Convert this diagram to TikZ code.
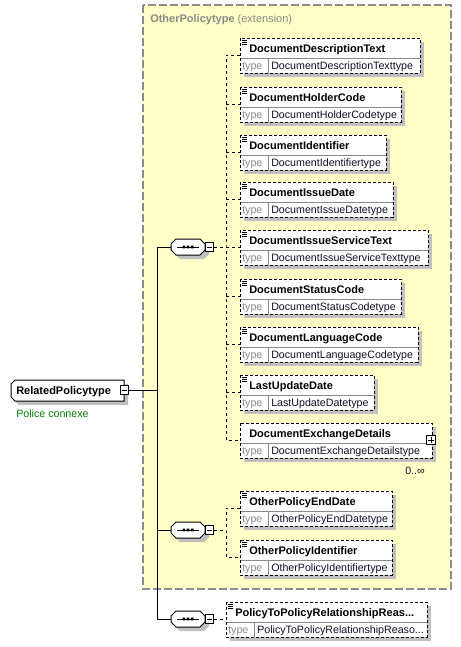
\documentclass[tikz,border=0pt]{standalone}
\usepackage{fontspec}
\setmainfont{Liberation Sans}
\usepackage{xcolor}
\usepackage{tikz}
\tikzset{every picture/.append style={font=\fontsize{8.25}{10}\selectfont}}
\definecolor{xsdpanel}{HTML}{FFFFC8}
\definecolor{xsdframe}{HTML}{8C8C8C}
\definecolor{xsdshade}{HTML}{C0C0C0}
\definecolor{xsdgrey}{HTML}{8A8A8A}
\definecolor{xsdink}{HTML}{101028}
\definecolor{xsdgreen}{HTML}{008000}
\tikzset{
  elemname/.style={font=\fontsize{8.25}{10}\selectfont\bfseries, inner sep=0pt, text=black},
  typekey/.style={font=\fontsize{8}{10}\selectfont, inner sep=0pt, text=xsdgrey},
  typename/.style={font=\fontsize{8}{10}\selectfont, inner sep=0pt, text=xsdink},
  link/.style={draw=black, line width=0.75pt},
  optlink/.style={link, dash pattern=on 2.25pt off 2.25pt},
  optedge/.style={link, dash pattern=on 2.25pt off 1.5pt},
  celledge/.style={draw=xsdgrey, line width=0.75pt},
  minusbox/.style={draw=black, fill=white, line width=0.75pt, minimum size=6.3pt, inner sep=0pt},
  panel/.style={draw=xsdframe, fill=xsdpanel, line width=1.1pt, dash pattern=on 6pt off 2.25pt}
}
% element box: id, top, left, right, name, type
\newcommand{\xsdelem}[6]{%
  \fill[xsdshade] (#3+4,#2+4) rectangle (#4+4,#2+39);
  \fill[white] (#3,#2) rectangle (#4,#2+35);
  \draw[celledge] (#3,#2+20) -- (#4,#2+20) (#3+28,#2+20) -- (#3+28,#2+35);
  \draw[optedge] (#3,#2) rectangle (#4,#2+35);
  \node[elemname, anchor=base west] (#1) at (#3+9,#2+14) {#5};
  \node[typekey, anchor=base west] (#1-key) at (#3+2,#2+31.5) {type};
  \node[typename, anchor=base west] (#1-type) at (#3+31,#2+31.5) {#6};
  \coordinate (#1-in) at (#3,#2+17);
}
% documentation mark
\newcommand{\docmark}[2]{%
  \draw[line width=0.6pt] (#1+2,#2+2.5) -- +(5,0) (#1+2,#2+4.5) -- +(5,0) (#1+2,#2+6.5) -- +(5,0);
}
% sequence compositor: id, centre y
\newcommand{\seqbox}[2]{%
  \fill[xsdshade] (180,#2-4) -- (204,#2-4) -- (209,#2+1) -- (209,#2+7) -- (204,#2+12)
    -- (180,#2+12) -- (175,#2+7) -- (175,#2+1) -- cycle;
  \filldraw[fill=white, link] (176,#2-8) -- (200,#2-8) -- (205,#2-3) -- (205,#2+3) -- (200,#2+8)
    -- (176,#2+8) -- (171,#2+3) -- (171,#2-3) -- cycle;
  \draw[link] (177,#2) -- (199,#2);
  \fill (182.5,#2-1.3) rectangle +(2.6,2.6) (186.7,#2-1.3) rectangle +(2.6,2.6) (190.9,#2-1.3) rectangle +(2.6,2.6);
  \node[minusbox] (#1-minus) at (209.5,#2) {};
  \draw[link] ([xshift=1.4pt]#1-minus.west) -- ([xshift=-1.4pt]#1-minus.east);
  \coordinate (#1) at (171,#2);
}

\begin{document}
\begin{tikzpicture}[x=0.75pt,y=-0.75pt]
    \useasboundingbox (0,0) rectangle (461,647);
    \fill[white] (0,0) rectangle (461,647);

    % extension panel
    \draw[panel] (143,5) rectangle (451,589);
    \node[anchor=base west, inner sep=0pt, text=xsdgrey] (panel-title) at (150,22.5)
      {\textbf{OtherPolicytype} (extension)};

    % root element
    \fill[xsdshade] (19,384) -- (128,384) -- (128,405) -- (19,405) -- (15,401) -- (15,388) -- cycle;
    \filldraw[fill=white, link] (15,380) -- (124,380) -- (124,401) -- (15,401) -- (11,397) -- (11,384) -- cycle;
    \node[elemname, anchor=base west] (root) at (16,394.5) {RelatedPolicytype};
    \node[minusbox] (root-minus) at (124.5,390) {};
    \draw[link] ([xshift=1.4pt]root-minus.west) -- ([xshift=-1.4pt]root-minus.east);
    \node[anchor=base west, inner sep=0pt, text=xsdgreen, font=\fontsize{8}{10}\selectfont]
      (root-doc) at (16,417) {Police connexe};

    % compositors
    \seqbox{seq1}{247}
    \seqbox{seq2}{530}
    \seqbox{seq3}{619}

    % child elements
    \xsdelem{e1}{38}{240}{420}{DocumentDescriptionText}{DocumentDescriptionTexttype}
    \xsdelem{e2}{87}{240}{401}{DocumentHolderCode}{DocumentHolderCodetype}
    \xsdelem{e3}{135}{240}{386}{DocumentIdentifier}{DocumentIdentifiertype}
    \xsdelem{e4}{182}{240}{393}{DocumentIssueDate}{DocumentIssueDatetype}
    \xsdelem{e5}{230}{240}{428}{DocumentIssueServiceText}{DocumentIssueServiceTexttype}
    \xsdelem{e6}{279}{240}{401}{DocumentStatusCode}{DocumentStatusCodetype}
    \xsdelem{e7}{327}{240}{418}{DocumentLanguageCode}{DocumentLanguageCodetype}
    \xsdelem{e8}{375}{240}{374}{LastUpdateDate}{LastUpdateDatetype}
    \xsdelem{e9}{423}{240}{432}{DocumentExchangeDetails}{DocumentExchangeDetailstype}
    \xsdelem{e10}{491}{240}{392}{OtherPolicyEndDate}{OtherPolicyEndDatetype}
    \xsdelem{e11}{540}{240}{392}{OtherPolicyIdentifier}{OtherPolicyIdentifiertype}
    \xsdelem{e12}{602}{226}{427}{PolicyToPolicyRelationshipReas...}{PolicyToPolicyRelationshipReaso...}
    \docmark{240}{38}
    \docmark{240}{87}
    \docmark{240}{135}
    \docmark{240}{182}
    \docmark{240}{230}
    \docmark{240}{279}
    \docmark{240}{327}
    \docmark{240}{375}
    \docmark{240}{491}
    \docmark{240}{540}
    \docmark{226}{602}

    % expand box and occurrence
    \node[minusbox] (e9-plus) at (431,440) {};
    \draw[link] ([xshift=1.4pt]e9-plus.west) -- ([xshift=-1.4pt]e9-plus.east)
      ([yshift=-1.4pt]e9-plus.north) -- ([yshift=1.4pt]e9-plus.south);
    \node[typename, anchor=base east] (e9-occ) at (425,474.5) {0..∞};

    % connectors
    \coordinate (trunk) at (157,247);
    \draw[link] (root-minus.east) -- (root-minus.east -| trunk);
    \draw[link] (seq1) -- (trunk) |- (seq3);
    \draw[link] (seq2) -- (seq2 -| trunk);

    \coordinate (bus1) at (226,247);
    \draw[optlink] (seq1-minus.east) -- (bus1);
    \draw[optlink] (e1-in) -| (bus1) |- (e9-in);
    \foreach \k in {2,...,8} \draw[optlink] (bus1 |- e\k-in) -- (e\k-in);

    \coordinate (bus2) at (226,530);
    \draw[optlink] (seq2-minus.east) -- (bus2);
    \draw[optlink] (e10-in) -| (bus2) |- (e11-in);

    \draw[optlink] (seq3-minus.east) -- (e12-in);
  \end{tikzpicture}
\end{document}
